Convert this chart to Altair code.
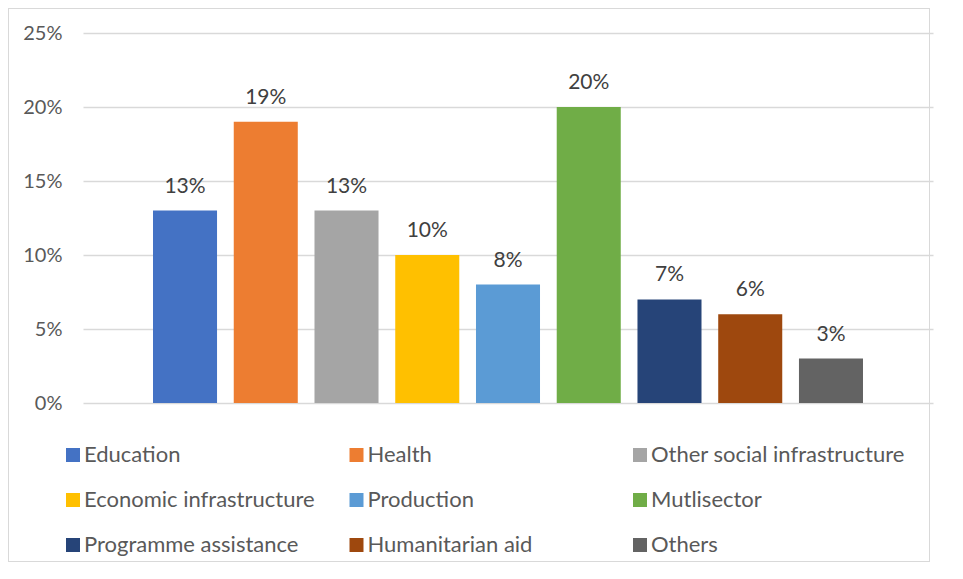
import altair as alt
import pandas as pd

categories = ["Education", "Health", "Other social infrastructure", "Economic infrastructure",
              "Production", "Mutlisector", "Programme assistance", "Humanitarian aid", "Others"]
values = [0.13, 0.19, 0.13, 0.10, 0.08, 0.20, 0.07, 0.06, 0.03]
colors = ["#4472C4", "#ED7D31", "#A5A5A5", "#FFC000", "#5B9BD5",
          "#70AD47", "#264478", "#9E480E", "#636363"]
y_ticks = [0, 0.05, 0.10, 0.15, 0.20, 0.25]

df = pd.DataFrame({"sector": categories, "share": values})

FONT = "Lato"

x_scale = alt.Scale(paddingInner=0.207, paddingOuter=0.867)
y_scale = alt.Scale(domain=[0, 0.25], nice=False)

bars = alt.Chart(df).mark_bar().encode(
    x=alt.X("sector:N", sort=categories, axis=None, scale=x_scale),
    y=alt.Y("share:Q", scale=y_scale,
            axis=alt.Axis(values=y_ticks, format=".0%", title=None, domain=False, ticks=False,
                          labelPadding=21, labelFontSize=20, labelColor="#595959", labelFont=FONT,
                          gridColor="#D9D9D9", gridWidth=1.5)),
    color=alt.Color("sector:N", sort=categories,
                    scale=alt.Scale(domain=categories, range=colors),
                    legend=alt.Legend(title=None, orient="none", legendX=-21, legendY=411,
                                      columns=3, gridAlign="all", columnPadding=7.5,
                                      rowPadding=23, symbolType="square", symbolSize=196,
                                      symbolStrokeWidth=0, labelFontSize=22, labelFont=FONT,
                                      labelColor="#595959", labelLimit=400, labelOffset=0,
                                      direction="horizontal")),
)

labels = alt.Chart(df).mark_text(baseline="bottom", dy=-14, fontSize=21, font=FONT,
                                 color="#404040").encode(
    x=alt.X("sector:N", sort=categories, axis=None, scale=x_scale),
    y=alt.Y("share:Q", scale=y_scale),
    text=alt.Text("share:Q", format=".0%"),
)

border = alt.Chart(df).mark_rect(fill=None, stroke="#D9D9D9", strokeWidth=1).encode(
    x=alt.value(-74.5), x2=alt.value(846.5), y=alt.value(-24.5), y2=alt.value(528.5)
)

chart = alt.layer(border, bars, labels).properties(
    width=850, height=370,
    autosize=alt.AutoSizeParams(type="none"),
    padding={"left": 75, "top": 25, "right": 22, "bottom": 160},
).configure_view(stroke=None)

chart.save("out.html", embed_options={"renderer": "svg", "actions": False})
